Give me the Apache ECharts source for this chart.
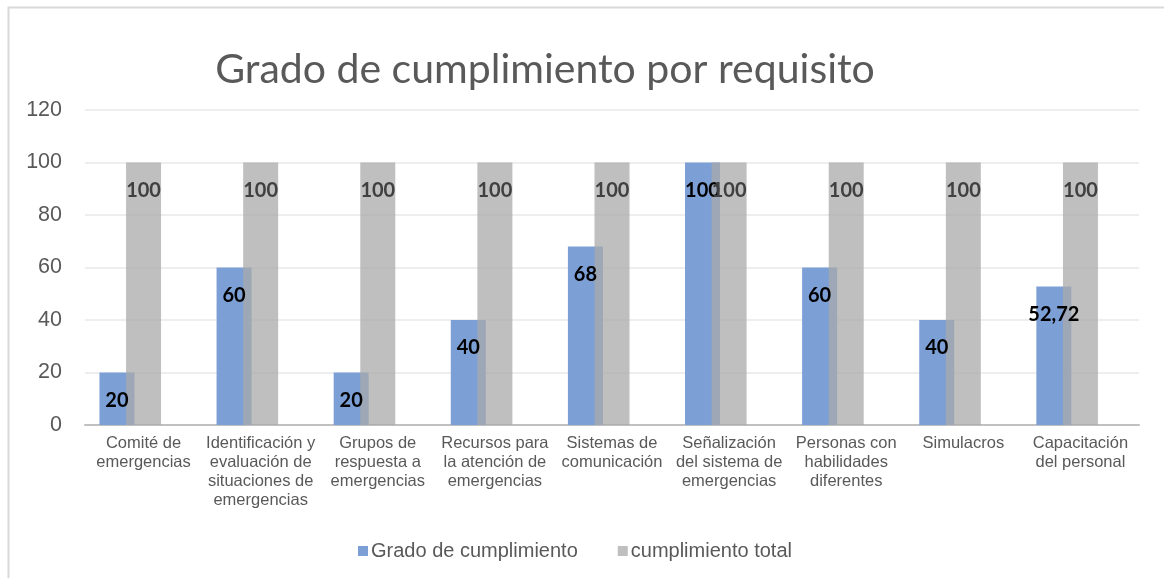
<!DOCTYPE html>
<html>
<head>
<meta charset="utf-8">
<script src="https://cdn.jsdelivr.net/npm/echarts@6/dist/echarts.min.js"></script>
<style>html,body{margin:0;padding:0;background:#fff;}#c{width:1164px;height:578px;}</style>
</head>
<body>
<div id="c"></div>
<script>
const categories = [
  "Comité de\nemergencias",
  "Identificación y\nevaluación de\nsituaciones de\nemergencias",
  "Grupos de\nrespuesta a\nemergencias",
  "Recursos para\nla atención de\nemergencias",
  "Sistemas de\ncomunicación",
  "Señalización\ndel sistema de\nemergencias",
  "Personas con\nhabilidades\ndiferentes",
  "Simulacros",
  "Capacitación\ndel personal"
];
const gradoCumplimiento = [20, 60, 20, 40, 68, 100, 60, 40, 52.72];
const cumplimientoTotal = [100, 100, 100, 100, 100, 100, 100, 100, 100];
const seriesNames = ["Grado de cumplimiento", "cumplimiento total"];
const titleText = "Grado de cumplimiento por requisito";
const yTicks = { min: 0, max: 120, interval: 20 };

const chart = echarts.init(document.getElementById('c'), null, { renderer: 'canvas' });
const fmt = p => String(p.value).replace('.', ',');
chart.setOption({
  animation: false,
  backgroundColor: '#fff',
  graphic: [{
    type: 'rect', left: 6, top: 5, shape: { width: 1200, height: 620 },
    style: { fill: 'none', stroke: '#d9d9d9', lineWidth: 2 }, silent: true, z: -1
  }],
  title: {
    text: titleText, left: 540, top: 44, textAlign: 'center',
    textStyle: { fontFamily: 'Lato', fontWeight: 'normal', fontSize: 41, color: '#595959' }
  },
  legend: {
    data: seriesNames, left: 353, top: 536, itemWidth: 10, itemHeight: 10, itemGap: 40,
    icon: 'rect',
    textStyle: { fontFamily: 'Liberation Sans', fontSize: 20, color: '#595959', padding: [0, 0, 0, -2] }
  },
  grid: { left: 85, right: 25, top: 110, bottom: 153 },
  xAxis: {
    type: 'category', data: categories,
    axisLine: { lineStyle: { color: '#c0c0c0', width: 2 } },
    axisTick: { show: false },
    axisLabel: { interval: 0, fontFamily: 'Liberation Sans', fontSize: 16.5, lineHeight: 19, color: '#595959', margin: 9 }
  },
  yAxis: {
    type: 'value', min: yTicks.min, max: yTicks.max, interval: yTicks.interval,
    axisLine: { show: false }, axisTick: { show: false },
    axisLabel: { fontFamily: 'Liberation Sans', fontSize: 21.5, color: '#595959', margin: 23 },
    splitLine: { lineStyle: { color: '#e8e8e8', width: 1.5 } }
  },
  series: [
    {
      name: seriesNames[0], type: 'bar', data: gradoCumplimiento, barWidth: 35, barGap: '-24%',
      itemStyle: { color: '#7c9fd6' },
      label: { show: true, position: 'insideTop', distance: 18, formatter: fmt,
        fontFamily: 'Lato', fontWeight: 'bold', fontSize: 20, color: '#000' }
    },
    {
      name: seriesNames[1], type: 'bar', data: cumplimientoTotal, barWidth: 35, barGap: '-24%',
      itemStyle: { color: 'rgba(170,170,170,0.75)' },
      label: { show: true, position: 'insideTop', distance: 18, formatter: fmt,
        fontFamily: 'Lato', fontWeight: 'bold', fontSize: 20, color: '#404040' }
    },
    {
      name: 'spacer', type: 'bar', data: categories.map(() => '-'), barWidth: 35, barGap: '-24%',
      silent: true, itemStyle: { color: 'transparent' }
    }
  ]
});
</script>
</body>
</html>
